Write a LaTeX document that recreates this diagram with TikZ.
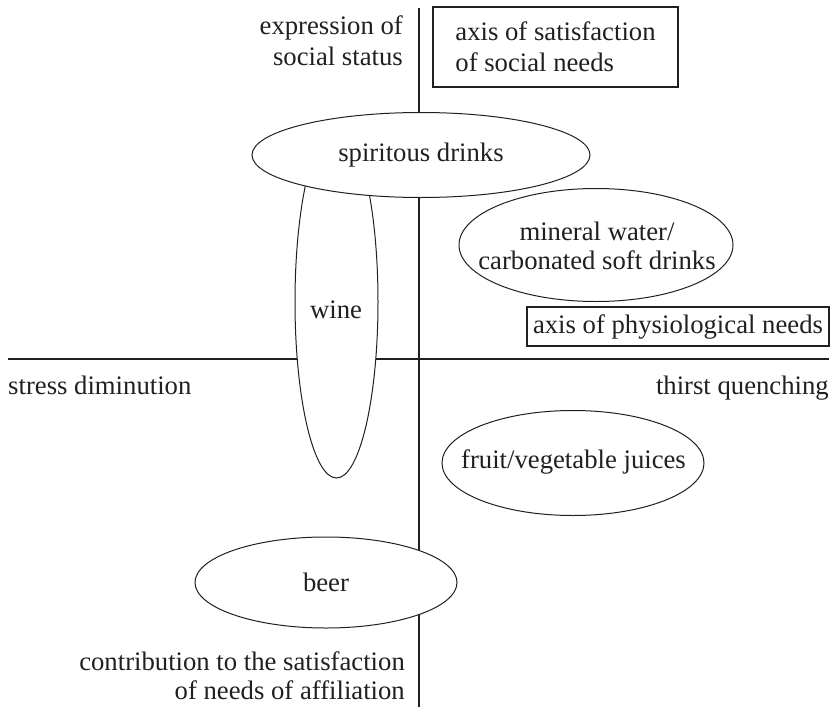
\documentclass[tikz,border=0pt]{standalone}
\usepackage{fontspec}
\setmainfont{Liberation Serif}
\usetikzlibrary{shapes.geometric}
\definecolor{ink}{RGB}{35,31,32}

\begin{document}
\begin{tikzpicture}[x=1pt, y=-1pt, ink,
        font=\fontsize{26.7}{29}\selectfont,
        axisline/.style={line width=2.6pt},
        blob/.style={ellipse, draw, fill=white, line width=1pt, inner sep=0pt},
        axisbox/.style={rectangle, draw, line width=1.2pt, inner sep=0pt}]
        \useasboundingbox (0,0) rectangle (836,707);

        % Draw the axes
        \coordinate (top) at (419,8);
        \coordinate (bottom) at (419,707);
        \coordinate (left) at (8,359);
        \coordinate (right) at (829,359);
        \draw[axisline] (top) -- (bottom);
        \draw[axisline] (left) -- (right);

        % Ends of the axes
        \node[inner sep=0pt, align=right, anchor=north east] (status) at (403,15) {expression of\\[2pt]social status};
        \node[inner sep=0pt, align=right, anchor=south east] (affiliation) at (405,700) {contribution to the satisfaction\\of needs of affiliation};
        \node[inner sep=0pt, anchor=base west] (stress) at (8,394) {stress diminution};
        \node[inner sep=0pt, anchor=base east] (thirst) at (829,394) {thirst quenching};

        % Names of the two axes
        \node[axisbox, align=left, minimum width=245, minimum height=80] (social) at (555.5,47) {axis of satisfaction\\[2pt]of social needs};
        \node[axisbox, minimum width=302, minimum height=39] (physio) at (678,326.5) {axis of physiological needs};

        % The drinks (wine goes under the spirits)
        \node[blob, minimum width=83, minimum height=352] (wine) at (336.5,302) {};
        \node (wineText) at (336,310) {wine};
        \node[blob, minimum width=338, minimum height=85] (spirits) at (421,155) {spiritous drinks};
        \node[blob, minimum width=274, minimum height=113] (water) at (596,245) {};
        \node[align=center] (waterText) at (597,246) {mineral water/\\carbonated soft drinks};
        \node[blob, minimum width=262, minimum height=105] (juice) at (573,463) {};
        \node (juiceText) at (573.5,462) {fruit/vegetable juices};
        \node[blob, minimum width=262, minimum height=91] (beer) at (326,582.5) {beer};
\end{tikzpicture}
\end{document}
